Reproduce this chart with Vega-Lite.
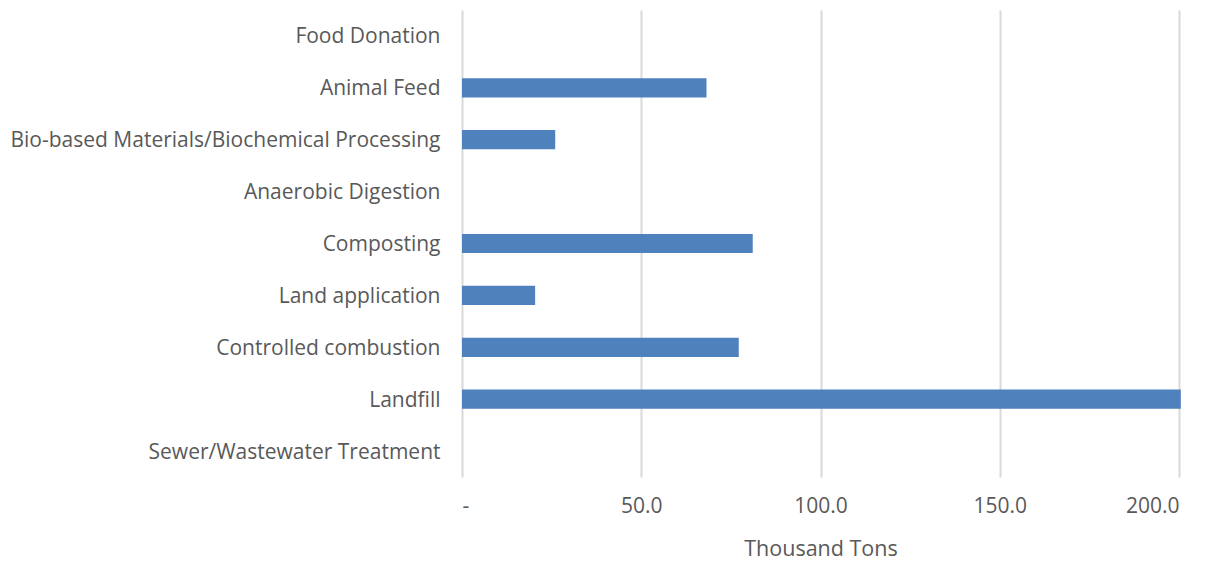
{
  "$schema": "https://vega.github.io/schema/vega-lite/v6.json",
  "width": 717,
  "height": 467,
  "autosize": {"type": "none"},
  "padding": {"left": 462, "top": 10, "right": 35, "bottom": 85},
  "background": "white",
  "data": {
    "values": [
      {"category": "Food Donation", "value": 0},
      {"category": "Animal Feed", "value": 68.2},
      {"category": "Bio-based Materials/Biochemical Processing", "value": 26.0},
      {"category": "Anaerobic Digestion", "value": 0},
      {"category": "Composting", "value": 81.1},
      {"category": "Land application", "value": 20.4},
      {"category": "Controlled combustion", "value": 77.2},
      {"category": "Landfill", "value": 200.5},
      {"category": "Sewer/Wastewater Treatment", "value": 0}
    ]
  },
  "config": {
    "view": {"stroke": null},
    "font": "Open Sans"
  },
  "mark": {"type": "bar", "color": "#4f81bd", "clip": false},
  "encoding": {
    "y": {
      "field": "category",
      "type": "nominal",
      "sort": null,
      "scale": {"paddingInner": 0.63, "paddingOuter": 0.315},
      "axis": {
        "title": null,
        "domain": false,
        "ticks": false,
        "grid": false,
        "labelPadding": 22,
        "labelOffset": 1.5,
        "labelFontSize": 21,
        "labelColor": "#595959",
        "labelFont": "Open Sans",
        "labelLimit": 500
      }
    },
    "x": {
      "field": "value",
      "type": "quantitative",
      "scale": {"domain": [0, 200], "nice": false},
      "axis": {
        "title": "Thousand Tons",
        "titleFontSize": 21.5,
        "titleFontWeight": "normal",
        "titleColor": "#595959",
        "titleFont": "Open Sans",
        "titlePadding": 22,
        "values": [0, 50, 100, 150, 200],
        "labelExpr": "datum.value == 0 ? '-' : format(datum.value, '.1f')",
        "labelFontSize": 21,
        "labelColor": "#595959",
        "labelFont": "Open Sans",
        "labelPadding": 18,
        "domain": false,
        "ticks": false,
        "grid": true,
        "gridColor": "#d9d9d9",
        "gridWidth": 2
      }
    }
  }
}
